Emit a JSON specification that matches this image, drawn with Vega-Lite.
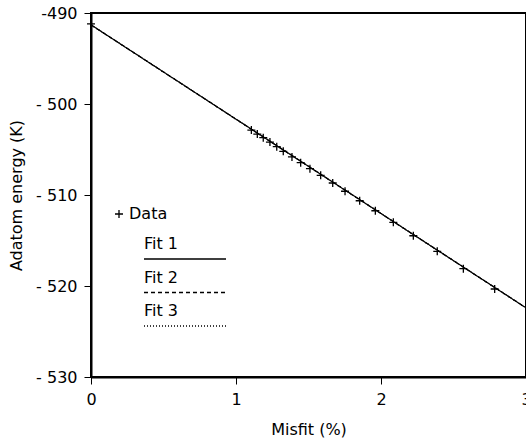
{
  "$schema": "https://vega.github.io/schema/vega-lite/v6.json",
  "width": 435,
  "height": 364,
  "autosize": "none",
  "padding": {"left": 91, "top": 13, "right": 0, "bottom": 65},
  "background": "white",
  "config": {
    "font": "DejaVu Sans",
    "view": {"stroke": "black", "strokeWidth": 2},
    "axis": {
      "grid": false,
      "domainColor": "black",
      "domainWidth": 2,
      "tickColor": "black",
      "tickWidth": 1,
      "tickSize": 7,
      "labelColor": "black",
      "labelFontSize": 16,
      "labelFlush": false,
      "titleColor": "black",
      "titleFontSize": 16,
      "titleFontWeight": "normal"
    },
    "legend": {
      "labelFontSize": 16,
      "labelColor": "black"
    }
  },
  "layer": [
    {
      "data": {
        "values": [
          {"misfit": 0.0, "energy": -491.2, "series": "Data"},
          {"misfit": 1.106, "energy": -502.86, "series": "Data"},
          {"misfit": 1.147, "energy": -503.30, "series": "Data"},
          {"misfit": 1.188, "energy": -503.70, "series": "Data"},
          {"misfit": 1.234, "energy": -504.18, "series": "Data"},
          {"misfit": 1.281, "energy": -504.69, "series": "Data"},
          {"misfit": 1.326, "energy": -505.20, "series": "Data"},
          {"misfit": 1.386, "energy": -505.82, "series": "Data"},
          {"misfit": 1.446, "energy": -506.45, "series": "Data"},
          {"misfit": 1.510, "energy": -507.11, "series": "Data"},
          {"misfit": 1.584, "energy": -507.84, "series": "Data"},
          {"misfit": 1.667, "energy": -508.68, "series": "Data"},
          {"misfit": 1.752, "energy": -509.59, "series": "Data"},
          {"misfit": 1.853, "energy": -510.63, "series": "Data"},
          {"misfit": 1.961, "energy": -511.73, "series": "Data"},
          {"misfit": 2.085, "energy": -513.00, "series": "Data"},
          {"misfit": 2.223, "energy": -514.48, "series": "Data"},
          {"misfit": 2.388, "energy": -516.19, "series": "Data"},
          {"misfit": 2.568, "energy": -518.10, "series": "Data"},
          {"misfit": 2.784, "energy": -520.33, "series": "Data"}
        ]
      },
      "mark": {"type": "point", "filled": false, "color": "black", "strokeWidth": 1.3, "size": 64, "opacity": 1},
      "encoding": {
        "x": {
          "field": "misfit", "type": "quantitative",
          "scale": {"domain": [0, 3], "nice": false, "zero": false},
          "axis": {"values": [0, 1, 2, 3], "title": "Misfit (%)", "labelPadding": 7, "titlePadding": 14, "format": "d"}
        },
        "y": {
          "field": "energy", "type": "quantitative",
          "scale": {"domain": [-530, -490], "nice": false, "zero": false},
          "axis": {"values": [-530, -520, -510, -500, -490], "title": "Adatom energy  (K)", "labelPadding": 7, "titlePadding": 11, "labelExpr": "datum.value == -490 ? '-490' : '- ' + abs(datum.value)"}
        },
        "shape": {
          "field": "series", "type": "nominal",
          "scale": {"domain": ["Data"], "range": ["M-1,0H1M0,-1V1"]},
          "legend": {
            "title": null,
            "orient": "none",
            "legendX": 20,
            "legendY": 193,
            "labelOffset": 2,
            "symbolStrokeColor": "black",
            "symbolFillColor": "transparent",
            "symbolStrokeWidth": 1.3,
            "symbolSize": 64
          }
        }
      }
    },
    {
      "data": {
        "values": [
          {"misfit": 0, "energy": -491.3, "series": "Fit 1"},
          {"misfit": 3, "energy": -522.4, "series": "Fit 1"},
          {"misfit": 0, "energy": -491.3, "series": "Fit 2"},
          {"misfit": 3, "energy": -522.4, "series": "Fit 2"},
          {"misfit": 0, "energy": -491.3, "series": "Fit 3"},
          {"misfit": 3, "energy": -522.4, "series": "Fit 3"}
        ]
      },
      "mark": {"type": "line", "color": "black", "strokeWidth": 1.2},
      "encoding": {
        "x": {"field": "misfit", "type": "quantitative"},
        "y": {"field": "energy", "type": "quantitative"},
        "strokeDash": {
          "field": "series", "type": "nominal",
          "scale": {"domain": ["Fit 1", "Fit 2", "Fit 3"], "range": [[1, 0], [4, 3], [1, 2]]},
          "legend": {
            "title": null,
            "orient": "none",
            "legendX": 52,
            "legendY": 238,
            "symbolType": "M-8.2,0H8.2",
            "symbolSize": 100,
            "symbolOffset": 34,
            "symbolStrokeColor": "black",
            "symbolStrokeWidth": 1.3,
            "rowPadding": 7.5,
            "labelOffset": -49,
            "encode": {
              "labels": {"update": {"dy": {"value": -15}}}
            }
          }
        }
      }
    }
  ]
}
